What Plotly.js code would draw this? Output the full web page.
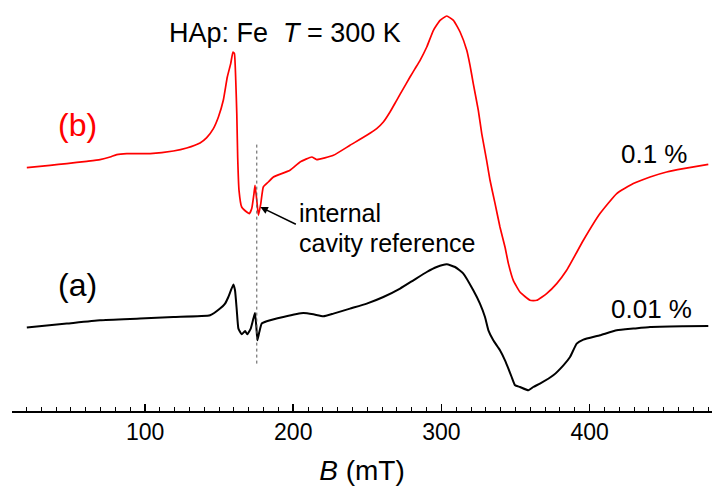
<!DOCTYPE html>
<html>
<head>
<meta charset="utf-8">
<script src="https://cdn.plot.ly/plotly-3.0.1.min.js"></script>
<style>html,body{margin:0;padding:0;background:#fff;}#chart{width:718px;height:486px;}</style>
</head>
<body>
<div id="chart"></div>
<script>
// Magnetic field B (mT) and EPR signal (arbitrary units, offset)
// (b) 0.1 % sample
const redField = [20.2, 35.9, 47.2, 60.7, 69.6, 76.4, 80.9, 87.7, 103.4, 119.1, 128.1, 137.1, 141.6, 146.1, 149.5, 152.8, 155.5, 157.8, 159.3, 160.3, 161.2, 161.9, 162.5, 163.4, 165.2, 168.6, 170.4, 172.0, 173.5, 174.2, 175.4, 176.5, 178.1, 179.8, 183.2, 186.6, 197.8, 204.6, 212.5, 215.8, 227.1, 238.3, 249.6, 256.3, 260.8, 265.3, 269.8, 274.3, 278.8, 282.2, 285.6, 290.1, 294.6, 299.1, 303.6, 308.1, 312.6, 317.1, 319.3, 321.5, 324.9, 327.2, 330.5, 332.8, 336.2, 339.5, 342.9, 345.2, 348.5, 353.0, 359.8, 364.3, 371.0, 377.8, 384.5, 395.8, 407.0, 418.3, 429.5, 440.8, 452.0, 463.3, 480.1];
const redSignal = [243.4, 245.7, 247.4, 249.7, 251.4, 254.0, 256.4, 257.4, 257.4, 260.0, 263.0, 268.0, 273.4, 282.4, 294.0, 310.7, 334.0, 347.4, 359.0, 357.4, 330.7, 297.4, 254.0, 220.7, 204.0, 199.0, 197.4, 202.4, 217.4, 225.7, 210.7, 195.7, 207.4, 224.0, 229.0, 234.0, 240.7, 249.0, 254.0, 251.4, 255.7, 265.7, 275.7, 282.4, 289.0, 299.0, 310.7, 322.4, 334.0, 342.4, 350.7, 364.0, 380.7, 390.7, 395.0, 390.7, 379.0, 360.7, 345.7, 327.4, 300.7, 277.4, 250.7, 230.7, 207.4, 184.0, 164.0, 147.4, 130.7, 119.0, 110.7, 110.7, 117.4, 127.4, 140.7, 170.7, 197.4, 217.4, 227.4, 234.0, 239.0, 242.4, 246.7];

// (a) 0.01 % sample
const blackField = [20.2, 47.2, 69.6, 96.6, 119.1, 143.9, 150.6, 154.0, 156.2, 159.6, 160.7, 161.9, 163.0, 165.2, 167.5, 169.0, 171.3, 173.1, 174.2, 175.1, 175.8, 177.1, 178.7, 182.1, 193.3, 206.8, 213.6, 220.3, 227.1, 238.3, 249.6, 260.8, 272.1, 281.1, 290.1, 296.8, 303.6, 309.2, 314.8, 321.5, 326.0, 329.4, 331.7, 335.0, 339.5, 342.9, 345.2, 347.4, 349.7, 353.0, 358.7, 362.0, 366.5, 375.5, 382.3, 386.8, 391.3, 395.8, 407.0, 418.3, 429.5, 440.8, 463.3, 480.1];
const blackSignal = [83.4, 87.4, 90.7, 92.4, 94.0, 95.7, 102.4, 107.4, 114.0, 126.4, 120.7, 100.7, 82.4, 76.7, 80.0, 76.7, 82.4, 92.4, 98.0, 84.0, 70.7, 79.0, 87.4, 89.7, 94.0, 98.0, 96.7, 94.7, 97.4, 102.4, 107.4, 114.0, 122.4, 130.7, 139.0, 144.0, 146.7, 144.0, 137.4, 120.7, 107.4, 94.0, 80.7, 70.7, 60.7, 50.7, 42.4, 34.0, 25.7, 24.0, 20.7, 24.0, 27.4, 35.7, 45.7, 54.0, 67.4, 71.4, 75.7, 80.7, 82.4, 84.0, 84.7, 85.0];

const referenceField = 175.4;
const tickValues = [100, 200, 300, 400];
const tickLabels = ['100', '200', '300', '400'];

const FONT = 'Liberation Sans, Arial, sans-serif';

const traces = [
  {x: redField, y: redSignal, type: 'scatter', mode: 'lines',
   line: {color: '#ff0000', width: 1.7, shape: 'spline', smoothing: 0.4}, hoverinfo: 'skip'},
  {x: blackField, y: blackSignal, type: 'scatter', mode: 'lines',
   line: {color: '#000000', width: 2, shape: 'spline', smoothing: 0.4}, hoverinfo: 'skip'}
];

const layout = {
  width: 718, height: 486,
  margin: {l: 12, r: 6, t: 0, b: 75, pad: 0},
  paper_bgcolor: '#ffffff', plot_bgcolor: '#ffffff',
  showlegend: false,
  font: {family: FONT, color: '#000', size: 23},
  xaxis: {
    range: [10.2, 482.6],
    showline: true, linecolor: '#000', linewidth: 1.5,
    ticks: 'inside', ticklen: 7, tickwidth: 1.5, tickcolor: '#000',
    tickvals: tickValues, ticktext: tickLabels,
    tickfont: {family: FONT, size: 23, color: '#000'},
    minor: {dtick: 10, tick0: 0, ticks: 'inside', ticklen: 4, tickwidth: 1, tickcolor: '#000', showgrid: false},
    showgrid: false, zeroline: false,
    title: {text: '<i>B</i> (mT)', font: {family: FONT, size: 28, color: '#000'}, standoff: 17}
  },
  yaxis: {visible: false, range: [0, 411], showgrid: false, zeroline: false},
  shapes: [
    {type: 'line', xref: 'x', yref: 'y', x0: referenceField, x1: referenceField, y0: 47.4, y1: 268,
     line: {color: '#555', width: 1, dash: 'dot'}}
  ],
  annotations: [
    {x: 114.8, y: 377.7, xref: 'x', yref: 'y', xanchor: 'left', yanchor: 'middle', showarrow: false,
     text: 'HAp: Fe  <i>T</i> = 300 K', font: {family: FONT, size: 27, color: '#000'}},
    {x: 54.4, y: 285.7, xref: 'x', yref: 'y', xanchor: 'center', yanchor: 'middle', showarrow: false,
     text: '(b)', font: {family: FONT, size: 32, color: '#ff0000'}},
    {x: 54.4, y: 125.7, xref: 'x', yref: 'y', xanchor: 'center', yanchor: 'middle', showarrow: false,
     text: '(a)', font: {family: FONT, size: 32, color: '#000'}},
    {x: 444.1, y: 256.7, xref: 'x', yref: 'y', xanchor: 'center', yanchor: 'middle', showarrow: false,
     text: '0.1 %', font: {family: FONT, size: 26, color: '#000'}},
    {x: 441.8, y: 101.7, xref: 'x', yref: 'y', xanchor: 'center', yanchor: 'middle', showarrow: false,
     text: '0.01 %', font: {family: FONT, size: 26, color: '#000'}},
    {x: 202.6, y: 197.7, xref: 'x', yref: 'y', xanchor: 'left', yanchor: 'middle', showarrow: false,
     text: 'internal', font: {family: FONT, size: 25, color: '#000'}},
    {x: 202.6, y: 167.7, xref: 'x', yref: 'y', xanchor: 'left', yanchor: 'middle', showarrow: false,
     text: 'cavity reference', font: {family: FONT, size: 25, color: '#000'}},
    {x: 177.8, y: 204, xref: 'x', yref: 'y', ax: 37, ay: 18, showarrow: true,
     arrowhead: 2, arrowsize: 1, arrowwidth: 1.5, arrowcolor: '#000', text: '', standoff: 0}
  ]
};

Plotly.newPlot('chart', traces, layout, {staticPlot: true, displayModeBar: false});
</script>
</body>
</html>
